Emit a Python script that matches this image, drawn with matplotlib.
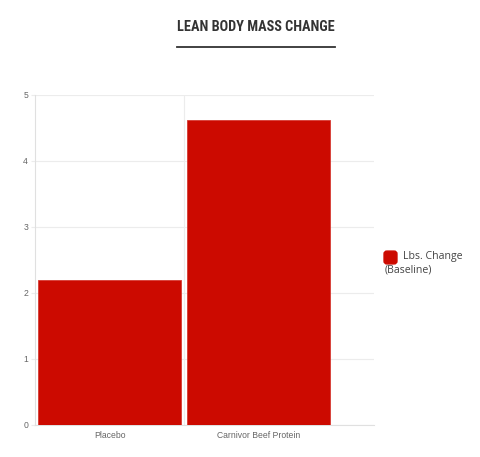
import matplotlib.pyplot as plt
from matplotlib.patches import FancyBboxPatch
from matplotlib.lines import Line2D

categories = ['Placebo', 'Carnivor Beef Protein']
lbs_change = [2.2, 4.62]
y_ticks = [0, 1, 2, 3, 4, 5]

BAR_RED = '#cc0a00'
GRID = '#ececec'
TICK_GREY = '#666666'

fig = plt.figure(figsize=(4.8, 4.57), dpi=100)
ax = fig.add_axes([35 / 480, 32 / 457, 339 / 480, 330 / 457])

x = list(range(len(categories)))
ax.bar(x, lbs_change, width=0.96, color=BAR_RED, edgecolor='#d63a33', linewidth=0.6, zorder=3)

ax.set_xlim(-0.5, 1.775)
ax.set_ylim(0, 5)
ax.set_yticks(y_ticks)
ax.set_xticks(x)
ax.set_xticklabels(categories)

# chart.js-like grid: horizontal lines + separators between categories
ax.grid(axis='y', color=GRID, linewidth=0.8, zorder=0)
ax.axvline(0.5, color=GRID, linewidth=0.8, zorder=0)
for side in ['top', 'right']:
    ax.spines[side].set_visible(False)
ax.spines['left'].set_color('#e0e0e0')
ax.spines['bottom'].set_color('#e0e0e0')
ax.tick_params(axis='both', colors=GRID, labelcolor=TICK_GREY, labelsize=6.2, width=0.8)
ax.tick_params(axis='x', length=0, pad=4)
ax.tick_params(axis='y', length=3, pad=2)
for lbl in ax.get_xticklabels() + ax.get_yticklabels():
    lbl.set_family('Liberation Sans')

# title with underline
fig.text(256 / 480, 1 - 27 / 457, 'LEAN BODY MASS CHANGE', ha='center', va='center',
         fontsize=10.3, fontweight='bold', color='#333333',
         family=['Liberation Sans Narrow', 'Roboto Condensed', 'Roboto'])
fig.add_artist(Line2D([177 / 480, 335 / 480], [1 - 47 / 457, 1 - 47 / 457],
                      color='#333333', linewidth=1.3, transform=fig.transFigure))

# legend drawn by hand to get the wrapped label
fig.add_artist(FancyBboxPatch((385 / 480, 1 - 263 / 457), 11 / 480, 11 / 457,
                              boxstyle='round,pad=0.002,rounding_size=0.006',
                              facecolor=BAR_RED, edgecolor=BAR_RED, transform=fig.transFigure))
fig.text(403 / 480, 1 - 256 / 457, 'Lbs. Change', ha='left', va='center', fontsize=7.6,
         color='#444444', family='Open Sans')
fig.text(385 / 480, 1 - 270 / 457, '(Baseline)', ha='left', va='center', fontsize=7.6,
         color='#444444', family='Open Sans')

fig.savefig('out.png', dpi=100)
